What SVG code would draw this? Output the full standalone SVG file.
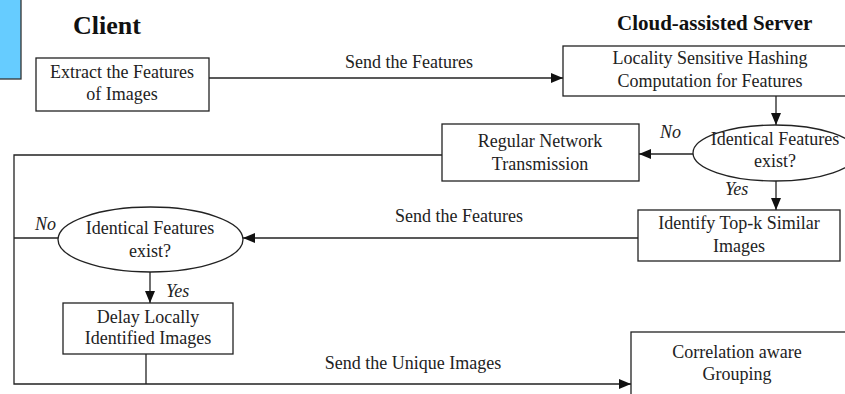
<svg xmlns="http://www.w3.org/2000/svg" width="845" height="394" viewBox="0 0 845 394">
  <style>
    .box { fill: #ffffff; stroke: #222222; stroke-width: 1.3; }
    .dec { fill: #ffffff; stroke: #222222; stroke-width: 1.3; }
    .wire { fill: none; stroke: #222222; stroke-width: 1.3; }
    .lbl { font-family: "Liberation Serif", "Times New Roman", serif; font-size: 18px; fill: #222222; text-anchor: middle; }
    .tag { font-family: "Liberation Serif", "Times New Roman", serif; font-size: 18px; font-style: italic; fill: #222222; }
    .head { font-family: "Liberation Serif", "Times New Roman", serif; font-weight: bold; fill: #111111; }
  </style>
  <defs>
    <marker id="arrow" markerUnits="userSpaceOnUse" markerWidth="13" markerHeight="11" refX="12" refY="5" orient="auto">
      <path d="M0,0 L12,5 L0,10 z" fill="#111111"/>
    </marker>
  </defs>

  <rect x="0" y="0" width="845" height="394" fill="#ffffff"/>

  <!-- side tab -->
  <rect x="-2" y="-2" width="23" height="81" fill="#66ccff" stroke="#333333" stroke-width="1.3"/>

  <!-- column headings -->
  <text class="head" x="73" y="34" font-size="26">Client</text>
  <text class="head" x="617" y="30" font-size="21">Cloud-assisted Server</text>

  <!-- connectors -->
  <g id="connectors">
    <path class="wire" d="M209,78 H563" marker-end="url(#arrow)"/>
    <path class="wire" d="M776,96 V125" marker-end="url(#arrow)"/>
    <path class="wire" d="M693,154 H639" marker-end="url(#arrow)"/>
    <path class="wire" d="M442,155 H14 V384 H631" marker-end="url(#arrow)"/>
    <path class="wire" d="M776,181 V210" marker-end="url(#arrow)"/>
    <path class="wire" d="M638,238 H243" marker-end="url(#arrow)"/>
    <path class="wire" d="M58,238 H14"/>
    <path class="wire" d="M150,272 V303" marker-end="url(#arrow)"/>
    <path class="wire" d="M146,354 V384"/>
    <text class="lbl" x="409" y="68">Send the Features</text>
    <text class="lbl" x="459" y="222">Send the Features</text>
    <text class="lbl" x="413" y="369">Send the Unique Images</text>
    <text class="tag" x="660" y="138">No</text>
    <text class="tag" x="725" y="195">Yes</text>
    <text class="tag" x="35" y="230">No</text>
    <text class="tag" x="166" y="297">Yes</text>
  </g>

  <g id="extract">
    <rect class="box" x="36" y="58" width="173" height="53"/>
    <text class="lbl" x="122" y="78">Extract the Features</text>
    <text class="lbl" x="122" y="100">of Images</text>
  </g>

  <g id="lsh">
    <rect class="box" x="563" y="46" width="290" height="50"/>
    <text class="lbl" x="710" y="64">Locality Sensitive Hashing</text>
    <text class="lbl" x="710" y="87">Computation for Features</text>
  </g>

  <g id="server-check">
    <ellipse class="dec" cx="775" cy="153" rx="82" ry="28"/>
    <text class="lbl" x="775" y="145">Identical Features</text>
    <text class="lbl" x="775" y="167">exist?</text>
  </g>

  <g id="regular">
    <rect class="box" x="442" y="124" width="197" height="57"/>
    <text class="lbl" x="540" y="147">Regular Network</text>
    <text class="lbl" x="540" y="170">Transmission</text>
  </g>

  <g id="topk">
    <rect class="box" x="638" y="210" width="202" height="51"/>
    <text class="lbl" x="739" y="229">Identify Top-k Similar</text>
    <text class="lbl" x="739" y="252">Images</text>
  </g>

  <g id="client-check">
    <ellipse class="dec" cx="150.5" cy="239.5" rx="92.5" ry="32.5"/>
    <text class="lbl" x="150" y="234">Identical Features</text>
    <text class="lbl" x="150" y="257">exist?</text>
  </g>

  <g id="delay">
    <rect class="box" x="63" y="303" width="170" height="51"/>
    <text class="lbl" x="148" y="323">Delay Locally</text>
    <text class="lbl" x="148" y="344">Identified Images</text>
  </g>

  <g id="grouping">
    <rect class="box" x="631" y="332" width="222" height="70"/>
    <text class="lbl" x="737" y="358">Correlation aware</text>
    <text class="lbl" x="737" y="380">Grouping</text>
  </g>
</svg>
